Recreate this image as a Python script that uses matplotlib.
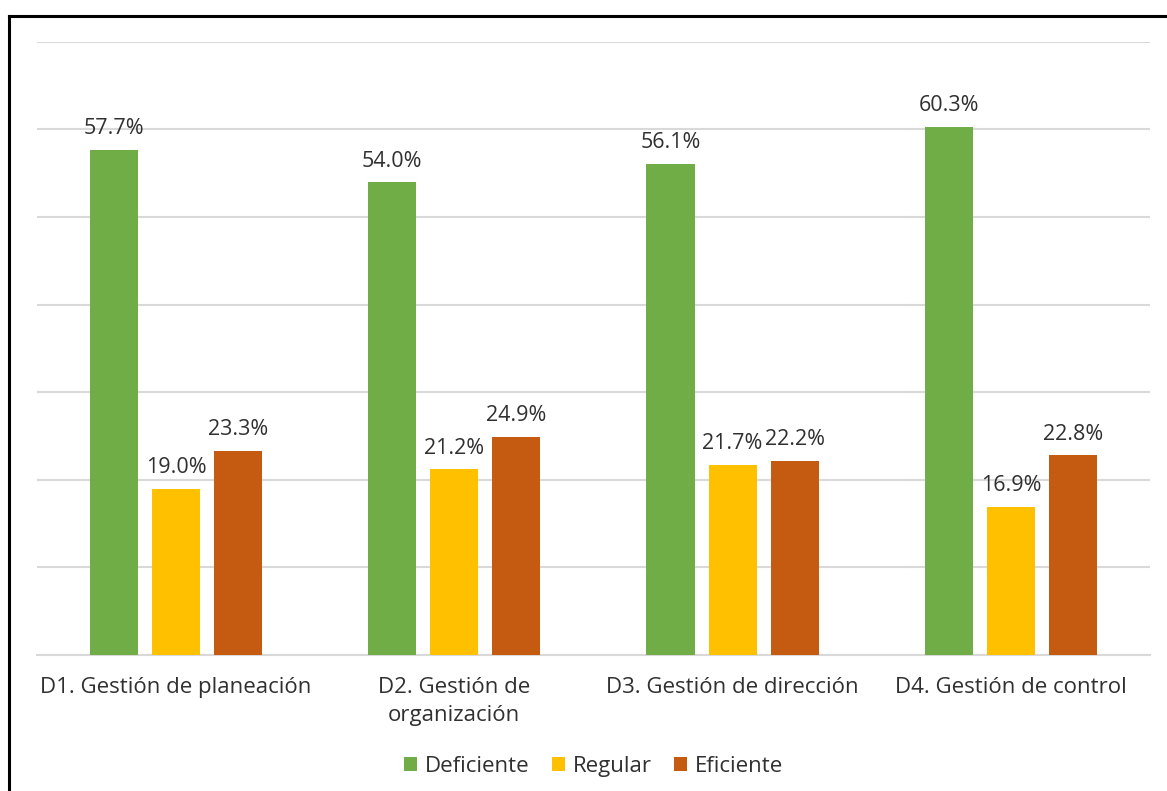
import matplotlib.pyplot as plt
import numpy as np
from matplotlib.lines import Line2D

# Datos por dimensión (porcentajes)
categorias = ["D1. Gestión de planeación", "D2. Gestión de\norganización",
              "D3. Gestión de dirección", "D4. Gestión de control"]
niveles = ["Deficiente", "Regular", "Eficiente"]
deficiente = [57.7, 54.0, 56.1, 60.3]
regular = [19.0, 21.2, 21.7, 16.9]
eficiente = [23.3, 24.9, 22.2, 22.8]
colores = ["#70AD47", "#FFC000", "#C55A11"]
color_texto = "#303030"

plt.rcParams["font.family"] = ["Open Sans", "DejaVu Sans"]

fig = plt.figure(figsize=(11.67, 7.91), dpi=100)
ax = fig.add_axes([0.0317, 0.172, 0.9537, 0.775])

x = np.arange(len(categorias))
ancho = 0.173
paso = 0.223
series = [deficiente, regular, eficiente]

for i, (serie, nombre, color) in enumerate(zip(series, niveles, colores)):
    pos = x + (i - 1) * paso
    barras = ax.bar(pos, serie, width=ancho, color=color, label=nombre, zorder=3)
    for b, v in zip(barras, serie):
        ax.text(b.get_x() + b.get_width() / 2, v + 1.2, f"{v:.1f}%",
                ha="center", va="bottom", fontsize=15.5, color=color_texto)

ax.set_xlim(-0.5, 3.5)
ax.set_ylim(0, 70)
ax.set_yticks(np.arange(0, 71, 10))
ax.yaxis.grid(True, color="#D9D9D9", linewidth=1.5, zorder=0)
ax.tick_params(axis="y", left=False, labelleft=False)
ax.tick_params(axis="x", length=0, pad=16, labelsize=16, labelcolor=color_texto)
ax.set_xticks(x)
ax.set_xticklabels(categorias, linespacing=1.45, va="top")
for s in ["top", "right", "left"]:
    ax.spines[s].set_visible(False)
ax.spines["bottom"].set_color("#D9D9D9")
ax.spines["bottom"].set_linewidth(1.5)

ax.legend(loc="center", bbox_to_anchor=(0.5, -0.182), ncol=3, frameon=False,
          fontsize=16, handlelength=0.6, handleheight=0.6, handletextpad=0.35,
          columnspacing=1.0, labelcolor=color_texto)

# Marco superior e izquierdo
fig.add_artist(Line2D([9 / 1167, 9 / 1167], [0, 1 - 16 / 791], color="black", linewidth=2.2,
                      transform=fig.transFigure))
fig.add_artist(Line2D([9 / 1167, 1], [1 - 16 / 791, 1 - 16 / 791], color="black", linewidth=2.2,
                      transform=fig.transFigure))

fig.savefig("out.png", dpi=100)
